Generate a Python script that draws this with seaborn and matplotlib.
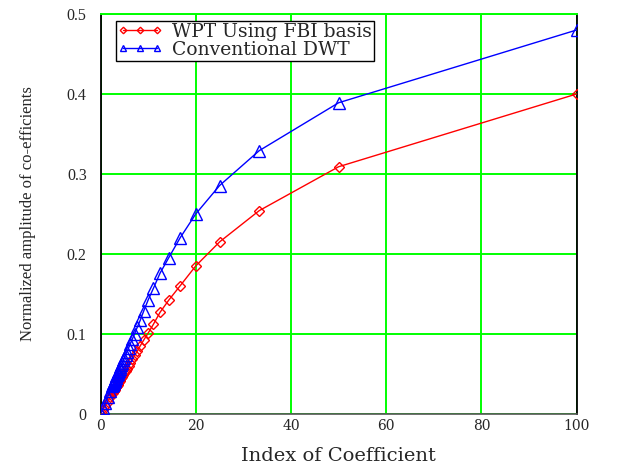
import matplotlib
matplotlib.use("Agg")
import matplotlib.pyplot as plt
import seaborn as sns
import pandas as pd

# ---- data ----
x_index = [100, 50, 33.3, 25, 20, 16.7, 14.3, 12.5, 11.1, 10,
           9.09, 8.33, 7.69, 7.14, 6.67, 6.25, 5.88, 5.56, 5.26, 5.0,
           4.76, 4.55, 4.35, 4.17, 4.0, 3.85, 3.70, 3.57, 3.45, 3.33,
           3.23, 3.13, 3.03, 2.94, 2.86, 2.78, 2.70, 2.63, 2.56, 2.50,
           2.0, 1.5, 1.0, 0.5, 0.0]

wpt_fbi = [0.400, 0.309, 0.254, 0.215, 0.185, 0.160, 0.142, 0.127, 0.112, 0.101,
           0.0925, 0.085, 0.078, 0.073, 0.068, 0.064, 0.060, 0.0565, 0.0535, 0.051,
           0.0485, 0.0463, 0.0443, 0.0425, 0.0408, 0.0392, 0.0378, 0.0364, 0.0352, 0.034,
           0.0329, 0.0319, 0.0309, 0.030, 0.0291, 0.0283, 0.0276, 0.0268, 0.0262, 0.0255,
           0.0204, 0.0153, 0.0102, 0.005, 0.0]

conv_dwt = [0.480, 0.389, 0.329, 0.2855, 0.250, 0.220, 0.195, 0.176, 0.157, 0.1425,
            0.129, 0.117, 0.108, 0.100, 0.0935, 0.0875, 0.0823, 0.0778, 0.0737, 0.070,
            0.0667, 0.0636, 0.0609, 0.0583, 0.056, 0.0538, 0.0519, 0.050, 0.0483, 0.0467,
            0.0452, 0.0438, 0.0424, 0.0412, 0.040, 0.0389, 0.0378, 0.0368, 0.0359, 0.035,
            0.028, 0.021, 0.014, 0.007, 0.0]

series_names = ["WPT Using FBI basis", "Conventional DWT"]
x_ticks = [0, 20, 40, 60, 80, 100]
y_ticks = [0, 0.1, 0.2, 0.3, 0.4, 0.5]
y_tick_labels = ["0", "0.1", "0.2", "0.3", "0.4", "0.5"]

# ---- styling ----
sns.set_style("white")
plt.rcParams["font.family"] = ["Liberation Serif", "DejaVu Serif"]
wide = ["DejaVu Serif"]

fig = plt.figure(figsize=(6.17, 4.66), dpi=100)
ax = fig.add_axes([0.163, 0.112, 0.7717, 0.858])

df_r = pd.DataFrame({"x": x_index, "y": wpt_fbi})
df_b = pd.DataFrame({"x": x_index, "y": conv_dwt})

sns.lineplot(data=df_r, x="x", y="y", ax=ax, sort=False, estimator=None,
             color="#ff0000", lw=1.0, marker="D", markersize=5.5,
             markerfacecolor="none", markeredgecolor="#ff0000", markeredgewidth=1.0,
             label=series_names[0], clip_on=True, zorder=3)
sns.lineplot(data=df_b, x="x", y="y", ax=ax, sort=False, estimator=None,
             color="#0000ff", lw=1.0, marker="^", markersize=8,
             markerfacecolor="none", markeredgecolor="#0000ff", markeredgewidth=1.0,
             label=series_names[1], clip_on=True, zorder=4)

ax.set_xlim(0, 100)
ax.set_ylim(0, 0.5)
ax.set_xticks(x_ticks)
ax.set_yticks(y_ticks)
ax.set_xticklabels([str(t) for t in x_ticks], fontsize=10, family=wide)
ax.set_yticklabels(y_tick_labels, fontsize=11.5)
ax.tick_params(axis="x", length=0, pad=4)
ax.tick_params(axis="y", length=0, pad=10)

ax.grid(True, color="#00ff00", lw=1.4)
ax.set_axisbelow(True)

for side in ["left", "right"]:
    ax.spines[side].set_color("black")
    ax.spines[side].set_linewidth(1.3)
ax.spines["bottom"].set_color("#555555")
ax.spines["bottom"].set_linewidth(1.2)
ax.spines["top"].set_color("#00ff00")
ax.spines["top"].set_linewidth(1.4)

ax.set_xlabel("Index of Coefficient", fontsize=14, labelpad=10, family=wide)
ax.set_ylabel("Normalized amplitude of co-efficients", fontsize=12, labelpad=22)

leg = ax.legend(loc="upper left", bbox_to_anchor=(0.032, 0.983),
                prop={"family": wide, "size": 13.5},
                frameon=True, fancybox=False, framealpha=1, edgecolor="black",
                numpoints=3, markerscale=0.6, handlelength=2.4, handletextpad=0.5,
                borderpad=0.1, labelspacing=0.0, borderaxespad=0)
leg.get_frame().set_linewidth(1.0)

fig.savefig("out.png", dpi=100)
